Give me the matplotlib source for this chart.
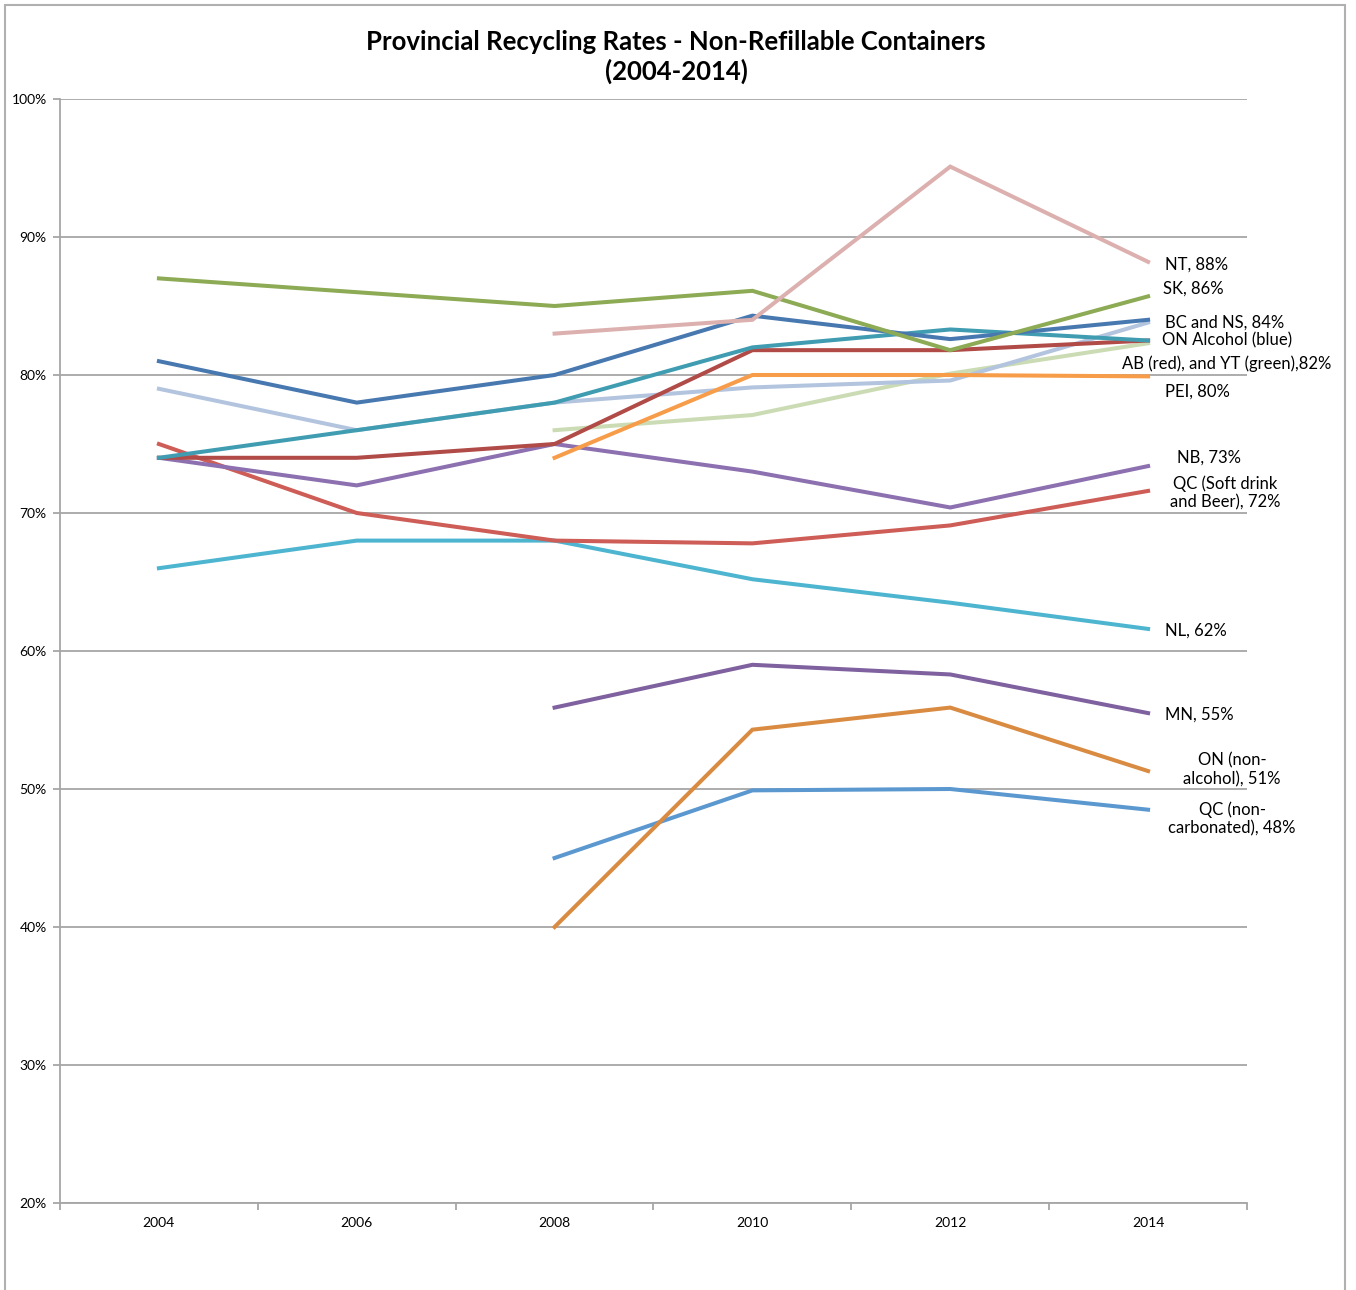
import matplotlib
matplotlib.use("Agg")
import matplotlib.pyplot as plt
from matplotlib.patches import Rectangle

plt.rcParams['font.family'] = ['Lato', 'DejaVu Sans']

# data
years = ['2004', '2006', '2008', '2010', '2012', '2014']
nan = float('nan')

nt        = [nan, nan, 83.0, 84.0, 95.1, 88.2]
sk        = [87.0, 86.0, 85.0, 86.1, 81.8, 85.7]
bc        = [81.0, 78.0, 80.0, 84.3, 82.6, 84.0]
on_alc    = [74.0, 76.0, 78.0, 82.0, 83.3, 82.5]
ab        = [74.0, 74.0, 75.0, 81.8, 81.8, 82.5]
pei       = [nan, nan, 74.0, 80.0, 80.0, 79.9]
ns        = [79.0, 76.0, 78.0, 79.1, 79.6, 83.8]
yt        = [nan, nan, 76.0, 77.1, 80.1, 82.3]
nb        = [74.0, 72.0, 75.0, 73.0, 70.4, 73.4]
qc_soft   = [75.0, 70.0, 68.0, 67.8, 69.1, 71.6]
nl        = [66.0, 68.0, 68.0, 65.2, 63.5, 61.6]
mn        = [nan, nan, 55.9, 59.0, 58.3, 55.5]
on_nonalc = [nan, nan, 40.0, 54.3, 55.9, 51.3]
qc_noncarb = [nan, nan, 45.0, 49.9, 50.0, 48.5]

# (values, colour, end label, label offset px, alignment)
series = [
    (qc_noncarb, '#5b98d0', 'QC (non-\ncarbonated), 48%', (84, -9), 'center'),
    (on_nonalc, '#d98b42', 'ON (non-\nalcohol), 51%', (84, 1), 'center'),
    (mn, '#7e619e', 'MN, 55%', (17, -2), 'left'),
    (nl, '#4db5d0', 'NL, 62%', (17, -2), 'left'),
    (qc_soft, '#cd5d56', 'QC (Soft drink\nand Beer), 72%', (77, -2), 'center'),
    (nb, '#8c70b0', 'NB, 73%', (29, 8), 'left'),
    (yt, '#cbdbb3', None, None, None),
    (ns, '#b3c4df', None, None, None),
    (pei, '#f79c48', 'PEI, 80%', (17, -15), 'left'),
    (ab, '#b04b47', 'AB (red), and YT (green),82%', (-26, -23), 'left'),
    (on_alc, '#3f9cb1', 'ON Alcohol (blue)', (14, 0), 'left'),
    (bc, '#4878b0', 'BC and NS, 84%', (17, -3), 'left'),
    (sk, '#8daa55', 'SK, 86%', (15, 8), 'left'),
    (nt, '#dcb0ae', 'NT, 88%', (17, -3), 'left'),
]

fig = plt.figure(figsize=(13.56, 12.9), dpi=100)
ax = fig.add_axes([60/1356, 87/1290, 1187/1356, 1104/1290])

x = list(range(len(years)))
for vals, col, lab, off, ha in series:
    ax.plot(x, vals, color=col, lw=2.9, solid_joinstyle='miter', zorder=3)
    if lab:
        ax.annotate(lab, xy=(x[-1], vals[-1]), xytext=off, textcoords='offset pixels',
                    ha=ha, va='center', fontsize=12, multialignment='center',
                    zorder=2)

ax.set_xlim(-0.5, 5.5)
ax.set_ylim(20, 100)
ax.set_yticks(range(20, 101, 10))
ax.set_yticklabels(['%d%%' % v for v in range(20, 101, 10)], fontsize=10)
ax.yaxis.grid(True, color='#a6a6a6', lw=1.3, zorder=1)
ax.set_axisbelow(True)

ax.set_xticks([i - 0.5 for i in range(len(years) + 1)])
ax.set_xticklabels([])
ax.set_xticks(x, minor=True)
ax.set_xticklabels(years, minor=True, fontsize=10)
ax.tick_params(axis='x', which='minor', length=0, pad=10)
ax.tick_params(axis='x', which='major', length=5, width=1.3, color='#a6a6a6')
ax.tick_params(axis='y', length=5, width=1.3, color='#a6a6a6', pad=4.5)

for s in ['top', 'right']:
    ax.spines[s].set_visible(False)
for s in ['left', 'bottom']:
    ax.spines[s].set_color('#a6a6a6')
    ax.spines[s].set_linewidth(1.3)

fig.text(676/1356, 1 - 57/1290, 'Provincial Recycling Rates - Non-Refillable Containers\n(2004-2014)',
         ha='center', va='center', fontsize=18.5, fontweight='bold', linespacing=1.2)

# outer chart frame
fig.patches.append(Rectangle((5/1356, -0.02), 1340/1356, 1.02 - 5/1290,
                             transform=fig.transFigure, fill=False,
                             edgecolor='#b0b0b0', lw=1.5))

fig.savefig('out.png', dpi=100)
